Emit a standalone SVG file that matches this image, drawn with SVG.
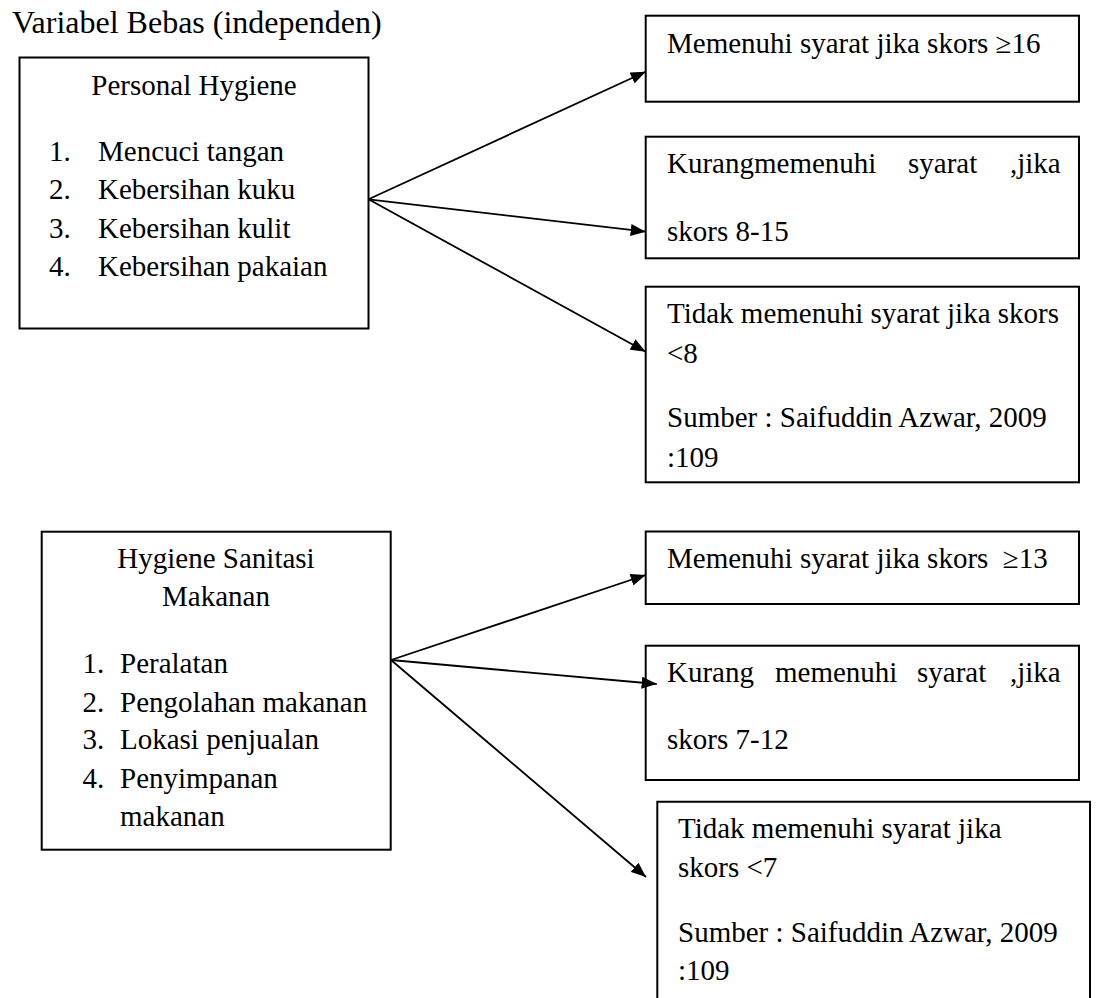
<svg xmlns="http://www.w3.org/2000/svg" width="1099" height="998" viewBox="0 0 1099 998">
<style>
text{font-family:"Liberation Serif","Times New Roman",serif;font-size:29px;fill:#000}
.title{font-size:32px}
.box{fill:#fff;stroke:#000;stroke-width:2}
.conn{stroke:#000;stroke-width:1.8;fill:none}
.c{text-anchor:middle}
</style>
<defs>
<marker id="ah" viewBox="0 0 15 12" refX="15" refY="6" markerWidth="15" markerHeight="12" markerUnits="userSpaceOnUse" orient="auto">
<path d="M0,0 L15,6 L0,12 z" fill="#000"/>
</marker>
</defs>
<rect width="1099" height="998" fill="#fff"/>
<text class="title" x="12" y="33">Variabel Bebas (independen)</text>

<g id="personal-hygiene">
<rect class="box" x="19.5" y="57.5" width="349" height="271"/>
<text class="c" x="194" y="95">Personal Hygiene</text>
<text x="49" y="161">1.</text><text x="98" y="161">Mencuci tangan</text>
<text x="49" y="199">2.</text><text x="98" y="199">Kebersihan kuku</text>
<text x="49" y="238">3.</text><text x="98" y="238">Kebersihan kulit</text>
<text x="49" y="276">4.</text><text x="98" y="276">Kebersihan pakaian</text>
</g>

<g id="ph-memenuhi">
<rect class="box" x="645.7" y="15.7" width="433.3" height="86"/>
<text x="667" y="53">Memenuhi syarat jika skors ≥16</text>
</g>

<g id="ph-kurang">
<rect class="box" x="645.7" y="136.7" width="433.3" height="121.6"/>
<text x="667" y="173">Kurangmemenuhi</text><text x="908" y="173">syarat</text><text x="1010" y="173">,jika</text>
<text x="667" y="241">skors 8-15</text>
</g>

<g id="ph-tidak">
<rect class="box" x="645.7" y="286.7" width="433.3" height="195.6"/>
<text x="667" y="323">Tidak memenuhi syarat jika skors</text>
<text x="667" y="363">&lt;8</text>
<text x="667" y="427">Sumber : Saifuddin Azwar, 2009</text>
<text x="667" y="467">:109</text>
</g>

<g id="hygiene-sanitasi">
<rect class="box" x="41.7" y="531.7" width="349" height="318"/>
<text class="c" x="216" y="568">Hygiene Sanitasi</text>
<text class="c" x="216" y="606">Makanan</text>
<text x="82.5" y="673">1.</text><text x="120" y="673">Peralatan</text>
<text x="82.5" y="712">2.</text><text x="120" y="712">Pengolahan makanan</text>
<text x="82.5" y="749">3.</text><text x="120" y="749">Lokasi penjualan</text>
<text x="82.5" y="788">4.</text><text x="120" y="788">Penyimpanan</text>
<text x="120" y="826">makanan</text>
</g>

<g id="hs-memenuhi">
<rect class="box" x="645.7" y="531.5" width="433.3" height="72.5"/>
<text x="667" y="568" xml:space="preserve">Memenuhi syarat jika skors  ≥13</text>
</g>

<g id="hs-kurang">
<rect class="box" x="645.7" y="645.7" width="433.3" height="134.3"/>
<text x="667" y="682">Kurang</text><text x="775" y="682">memenuhi</text><text x="917" y="682">syarat</text><text x="1010" y="682">,jika</text>
<text x="667" y="749">skors 7-12</text>
</g>

<g id="hs-tidak">
<path class="box" d="M657.3,1010 V801.7 H1090 V1010"/>
<text x="678" y="838">Tidak memenuhi syarat jika</text>
<text x="678" y="877">skors &lt;7</text>
<text x="678" y="942">Sumber : Saifuddin Azwar, 2009</text>
<text x="678" y="980">:109</text>
</g>

<g id="connectors">
<line class="conn" x1="368.5" y1="199.3" x2="645.7" y2="71.7" marker-end="url(#ah)"/>
<line class="conn" x1="368.5" y1="199.3" x2="645.7" y2="231.7" marker-end="url(#ah)"/>
<line class="conn" x1="368.5" y1="199.3" x2="645.7" y2="351.7" marker-end="url(#ah)"/>
<line class="conn" x1="391" y1="660" x2="645.7" y2="575" marker-end="url(#ah)"/>
<line class="conn" x1="391" y1="660" x2="656.7" y2="684" marker-end="url(#ah)"/>
<line class="conn" x1="391" y1="660" x2="646" y2="877" marker-end="url(#ah)"/>
</g>
</svg>
